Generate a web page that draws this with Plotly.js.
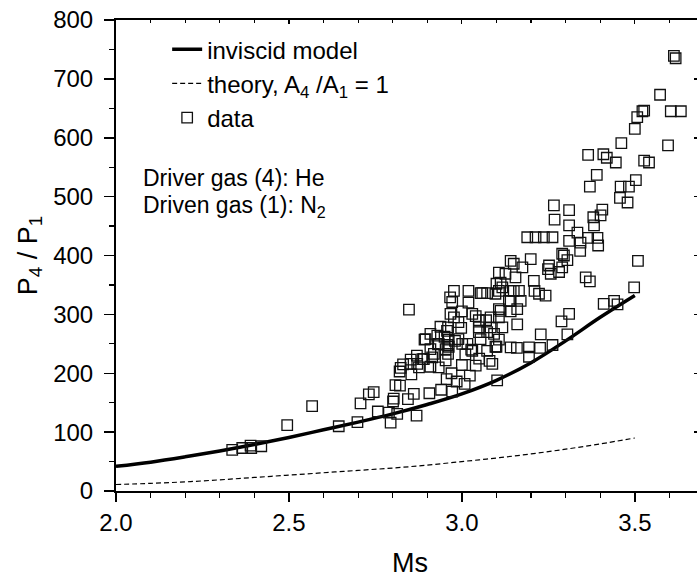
<!DOCTYPE html>
<html>
<head>
<meta charset="utf-8">
<script src="https://cdn.plot.ly/plotly-3.0.1.min.js"></script>
<style>
html,body{margin:0;padding:0;overflow:hidden;background:#fff;}
#chart{width:720px;height:579px;}
</style>
</head>
<body>
<div id="chart"></div>
<script>
// Inviscid model curve
var modelMs = [2.0, 2.1, 2.2, 2.3, 2.4, 2.5, 2.6, 2.7, 2.8, 2.9, 3.0, 3.1, 3.2, 3.3, 3.4, 3.5];
var modelP  = [42, 49, 58, 68, 79, 91, 104, 117, 131, 147, 165, 188, 218, 255, 295, 332];

// Theory, A4/A1 = 1 (dashed)
var theoryMs = [2.0, 2.1, 2.2, 2.3, 2.4, 2.5, 2.6, 2.7, 2.8, 2.9, 3.0, 3.1, 3.2, 3.3, 3.4, 3.5];
var theoryP  = [11, 13, 15.5, 19, 23, 27, 31, 35, 39, 44, 50, 56, 63, 71, 80, 90];

// Measured data
var dataMs = [
2.336,2.365,2.389,2.391,2.42,2.495,2.567,2.644,2.698,2.707,2.731,2.745,2.757,2.789,2.794,2.801,2.803,2.813,2.808,2.821,
2.823,2.82,2.847,2.844,2.861,2.869,2.854,2.852,2.876,2.886,2.892,2.906,2.909,2.914,2.909,2.931,2.938,2.94,2.956,2.953,
2.962,2.962,2.96,2.972,2.977,2.972,2.977,2.985,2.998,3.001,3.008,3.019,3.019,3.023,3.027,3.03,3.04,3.049,3.054,3.073,
3.073,3.07,3.088,3.097,3.102,3.10,3.107,2.83,2.871,2.933,2.933,2.958,2.966,2.957,2.929,2.953,2.895,2.909,2.919,2.89,
2.852,3.03,3.073,3.049,3.016,2.99,3.054,3.093,3.107,3.083,3.049,3.107,3.083,3.107,3.136,3.16,3.097,3.112,3.126,3.059,
3.107,3.141,3.165,3.150,3.141,3.155,3.175,3.199,3.208,3.223,3.242,3.21,3.141,3.112,3.117,3.16,3.117,3.17,3.141,3.15,
3.141,3.159,3.194,3.226,3.1,3.194,3.08,3.228,3.305,3.262,3.31,3.288,3.358,3.37,3.44,3.41,3.45,3.498,3.509,3.189,
3.213,3.237,3.262,3.266,3.268,3.31,3.31,3.334,3.31,3.343,3.342,3.365,3.392,3.394,3.305,3.29,3.295,3.29,3.249,3.257,
3.281,3.252,3.38,3.406,3.401,3.382,3.365,3.409,3.419,3.445,3.39,3.37,3.459,3.483,3.503,3.457,3.479,3.461,3.5,3.507,
3.522,3.527,3.527,3.541,3.573,3.596,3.604,3.633,3.613,3.618,2.967,3.0,3.04,2.99,2.98,2.95,2.87,2.96,3.01,3.05,
3.0,2.97
];
var dataP = [
70,73,77,73,76,112,144,110,117,149,164,168,135,133,116,152,157,131,180,179,
209,203,308,156,165,128,198,216,210,224,257,166,211,227,267,249,279,172,190,222,
257,245,278,169,340,321,295,186,277,250,182,340,320,196,240,301,213,270,336,270,
336,290,216,245,188,352,371,215,216,210,250,248,329,272,264,241,258,241,233,224,
223,238,238,290,250,258,258,267,257,278,278,295,295,309,323,309,335,354,369,336,
340,340,340,386,391,363,380,394,357,335,332,340,305,306,278,283,346,323,323,340,
244,243,244,243,245,228,221,266,266,248,301,288,363,356,323,318,317,346,391,431,
431,431,431,485,461,477,451,439,425,422,408,430,430,417,392,403,400,380,377,369,
372,383,465,478,468,451,571,572,566,558,537,517,517,517,528,498,490,591,615,635,
645,646,561,558,673,587,645,645,739,735,301,305,297,287,255,262,230,233,232,225,
214,200
];

var xTickVals = [2.0, 2.5, 3.0, 3.5];
var xTickText = ['2.0', '2.5', '3.0', '3.5'];

var F = 'Liberation Sans, Arial, Helvetica, sans-serif';

var traces = [
  {x: modelMs, y: modelP, type: 'scatter', mode: 'lines', name: 'inviscid model',
   line: {color: '#000', width: 3.5, shape: 'spline', smoothing: 1}},
  {x: theoryMs, y: theoryP, type: 'scatter', mode: 'lines', name: 'theory, A<sub>4</sub> /A<sub>1</sub> = 1',
   line: {color: '#000', width: 1.2, dash: '5px,3px', shape: 'spline'}},
  {x: dataMs, y: dataP, type: 'scatter', mode: 'markers', name: 'data',
   marker: {symbol: 'square-open', size: 10.5, color: '#111', line: {color: '#111', width: 1.3}}},
  {x: [], y: [], xaxis: 'x2', yaxis: 'y2', type: 'scatter', mode: 'markers', showlegend: false, hoverinfo: 'skip'}
];

var layout = {
  width: 720, height: 579,
  margin: {l: 116, r: 16, t: 20, b: 88},
  paper_bgcolor: '#fff', plot_bgcolor: '#fff',
  font: {family: F, color: '#000', size: 24},
  showlegend: true,
  legend: {x: 0.087, y: 0.985, xanchor: 'left', yanchor: 'top', bgcolor: 'rgba(0,0,0,0)',
           font: {family: F, size: 24, color: '#000'}, tracegroupgap: 0, itemwidth: 30},
  xaxis: {range: [2.0, 3.7], tickvals: xTickVals, ticktext: xTickText, ticks: 'outside', ticklen: 9, tickwidth: 1.5,
          tickcolor: '#000', showline: true, linewidth: 2, linecolor: '#000', showgrid: false, zeroline: false,
          minor: {dtick: 0.1, tick0: 2.0, ticks: 'outside', ticklen: 5, tickwidth: 1.2, tickcolor: '#000', showgrid: false},
          tickfont: {family: F, size: 24, color: '#000'},
          title: {text: 'Ms', font: {family: F, size: 27, color: '#000'}, standoff: 18}},
  yaxis: {range: [0, 800], dtick: 100, tick0: 0, ticks: 'outside', ticklen: 10, tickwidth: 1.5, tickcolor: '#000',
          showline: true, linewidth: 2, linecolor: '#000', showgrid: false, zeroline: false, ticklabelstandoff: 6,
          minor: {dtick: 50, ticks: 'outside', ticklen: 5, tickwidth: 1.2, tickcolor: '#000', showgrid: false},
          tickfont: {family: F, size: 24, color: '#000'},
          title: {text: 'P<sub>4</sub> / P<sub>1</sub>', font: {family: F, size: 27, color: '#000'}, standoff: 8}},
  xaxis2: {overlaying: 'x', side: 'top', range: [2.0, 3.7], dtick: 0.5, tick0: 2.0, ticks: 'inside', ticklen: 4,
           tickwidth: 1.2, tickcolor: '#000', showline: true, linewidth: 2, linecolor: '#000',
           showticklabels: false, showgrid: false, zeroline: false,
           minor: {dtick: 0.1, tick0: 2.0, ticks: 'inside', ticklen: 3, tickwidth: 1.2, tickcolor: '#000', showgrid: false}},
  yaxis2: {overlaying: 'y', side: 'right', range: [0, 800], dtick: 100, ticks: 'inside', ticklen: 10, tickwidth: 1.5,
           tickcolor: '#000', showline: true, linewidth: 2, linecolor: '#000', showticklabels: false,
           showgrid: false, zeroline: false},
  annotations: [
    {xref: 'paper', yref: 'paper', x: 0.0425, y: 0.665, xanchor: 'left', yanchor: 'middle', showarrow: false,
     text: 'Driver gas (4): He', font: {family: F, size: 23, color: '#000'}},
    {xref: 'paper', yref: 'paper', x: 0.0425, y: 0.605, xanchor: 'left', yanchor: 'middle', showarrow: false,
     text: 'Driven gas (1): N<sub>2</sub>', font: {family: F, size: 23, color: '#000'}}
  ]
};

Plotly.newPlot('chart', traces, layout, {displayModeBar: false, staticPlot: true});
</script>
</body>
</html>
